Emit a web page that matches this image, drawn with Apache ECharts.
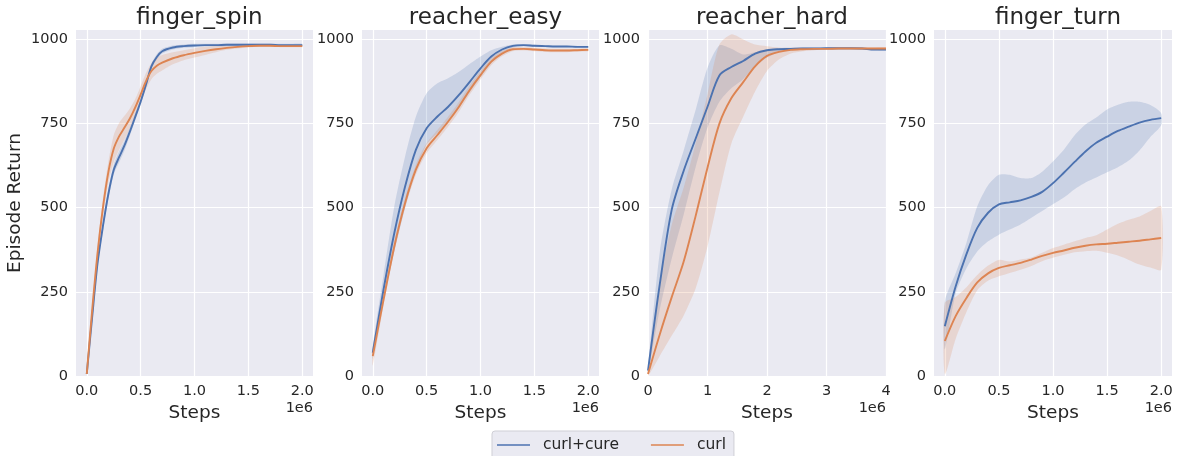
<!DOCTYPE html>
<html>
<head>
<meta charset="utf-8">
<script src="https://cdn.jsdelivr.net/npm/echarts@6/dist/echarts.min.js"></script>
<style>html,body{margin:0;padding:0;background:#fff}#c{width:1178px;height:456px}</style>
</head>
<body>
<div id="c"></div>
<script>
// ---- data (x in units of 1e6 steps) ----
const titles = ['finger_spin', 'reacher_easy', 'reacher_hard', 'finger_turn'];
const seriesNames = ['curl+cure', 'curl'];
const yTicks = [0, 250, 500, 750, 1000];
const xTicksA = [0, 0.5, 1.0, 1.5, 2.0];
const xTicksB = [0, 1, 2, 3, 4];

// finger_spin
const x1 = [0,0.05,0.1,0.15,0.2,0.25,0.3,0.35,0.4,0.45,0.5,0.55,0.6,0.65,0.7,0.8,0.9,1.0,1.1,1.2,1.3,1.4,1.5,1.6,1.7,1.8,1.9,2.0];
const cure1 = [6,175,335,445,540,612,650,685,726,770,815,866,920,948,965,976,980,982,983,983,984,984,984,984,984,983,983,983];
const cure1Hi = [8,188,350,460,555,628,668,700,738,780,824,874,928,956,972,982,985,987,987,987,988,988,988,988,988,987,987,987];
const cure1Lo = [4,162,320,430,525,598,634,670,714,760,806,858,912,940,958,970,975,977,979,979,980,980,980,980,980,979,979,979];
const curl1 = [6,195,365,500,605,675,712,738,765,798,836,876,906,922,931,944,953,960,966,971,975,978,980,981,981,980,980,980];
const curl1Hi = [8,210,385,525,635,715,752,773,795,823,861,900,930,946,954,962,968,974,978,980,981,983,984,984,984,983,983,983];
const curl1Lo = [4,180,345,475,575,635,672,703,735,773,811,852,882,898,908,926,938,946,954,962,969,973,976,978,978,977,977,977];

// reacher_easy
const x2 = [0,0.1,0.2,0.3,0.4,0.5,0.6,0.7,0.8,0.9,1.0,1.1,1.2,1.3,1.4,1.5,1.6,1.7,1.8,1.9,2.0];
const cure2 = [69,257,425,563,672,736,771,800,835,874,914,949,970,981,983,981,980,979,979,978,978];
const cure2Hi = [88,300,504,652,770,840,870,885,904,927,949,968,978,985,986,984,982,981,981,980,980];
const cure2Lo = [52,225,370,500,610,688,722,758,798,843,888,930,960,976,980,978,977,977,977,976,976];
const curl2 = [59,227,385,514,613,677,716,756,800,850,894,934,958,971,972,970,968,967,967,968,969];
const curl2Hi = [85,245,400,529,628,692,731,771,815,864,907,945,966,977,977,975,973,972,972,972,973];
const curl2Lo = [32,210,370,499,598,662,701,741,785,836,881,923,950,965,967,965,963,962,962,964,965];

// reacher_hard
const x3 = [0,0.2,0.4,0.6,0.8,1.0,1.2,1.4,1.6,1.8,2.0,2.2,2.4,2.6,2.8,3.0,3.2,3.4,3.6,3.8,4.0];
const cure3 = [16,275,495,610,705,800,893,918,936,958,968,971,972,973,973,974,974,974,973,970,970];
const cure3Hi = [25,370,555,670,790,916,982,972,955,962,970,974,975,976,976,977,977,977,977,973,972];
const cure3Lo = [8,200,350,480,620,738,815,855,882,920,946,963,968,970,970,971,971,971,969,967,967];
const curl3 = [6,125,235,340,475,619,750,825,873,920,951,963,969,971,972,972,973,973,973,973,973];
const curl3Hi = [20,280,450,560,690,837,985,1015,1000,985,980,976,975,975,975,975,976,976,976,976,976];
const curl3Lo = [0,60,120,180,260,385,545,690,770,845,906,940,958,965,968,969,970,970,970,970,970];

// finger_turn
const x4 = [0,0.1,0.2,0.3,0.4,0.5,0.6,0.7,0.8,0.9,1.0,1.1,1.2,1.3,1.4,1.5,1.6,1.7,1.8,1.9,2.0];
const cure4 = [148,266,362,440,485,510,516,522,532,547,573,604,636,667,693,711,728,741,753,761,766];
const cure4Hi = [222,305,396,504,567,598,598,588,588,607,637,672,715,747,768,792,806,815,815,805,781];
const cure4Lo = [79,245,320,370,400,420,435,450,470,490,510,530,555,575,590,605,620,640,670,710,745];
const curl4 = [104,178,232,278,305,321,329,336,346,357,366,373,381,387,391,393,396,399,402,406,410];
const curl4Hi = [217,235,264,300,328,345,340,346,352,366,380,390,400,410,418,435,452,464,474,490,504];
const curl4Lo = [5,110,190,255,283,296,306,316,327,341,351,360,368,371,372,366,358,345,331,322,316];

const panels = [
  {x: x1, cure: cure1, cureHi: cure1Hi, cureLo: cure1Lo, curl: curl1, curlHi: curl1Hi, curlLo: curl1Lo},
  {x: x2, cure: cure2, cureHi: cure2Hi, cureLo: cure2Lo, curl: curl2, curlHi: curl2Hi, curlLo: curl2Lo},
  {x: x3, cure: cure3, cureHi: cure3Hi, cureLo: cure3Lo, curl: curl3, curlHi: curl3Hi, curlLo: curl3Lo},
  {x: x4, cure: cure4, cureHi: cure4Hi, cureLo: cure4Lo, curl: curl4, curlHi: curl4Hi, curlLo: curl4Lo}
];

// ---- layout / style ----
const FONT = 'DejaVu Sans';
const TXT = '#262626';
const BLUE = '#4c72b0', ORANGE = '#dd8452';
const BLUE_A = 'rgba(76,114,176,0.2)', ORANGE_A = 'rgba(221,132,82,0.2)';
const gridBoxes = [[76, 237], [362, 237], [648, 238], [934, 238]];
const TOP = 30, H = 346;

const pair = (xs, ys) => xs.map((v, i) => [v, ys[i]]);

const grids = [], xAxes = [], yAxes = [], series = [], titleArr = [], graphics = [];
panels.forEach((p, i) => {
  const [left, width] = gridBoxes[i];
  grids.push({left: left, top: TOP, width: width, height: H, show: true, backgroundColor: '#eaeaf2', borderWidth: 0, containLabel: false});
  const isB = i === 2;
  const ticks = isB ? xTicksB : xTicksA;
  xAxes.push({
    type: 'value', gridIndex: i,
    min: isB ? 0 : -0.1, max: isB ? 4 : 2.1,
    name: 'Steps', nameLocation: 'middle', nameGap: 28,
    nameTextStyle: {fontFamily: FONT, fontSize: 18.5, color: TXT},
    axisLine: {show: false}, axisTick: {show: false, customValues: ticks},
    axisLabel: {customValues: ticks, fontFamily: FONT, fontSize: 14.5, color: TXT, margin: 8,
      formatter: v => isB ? String(Math.round(v)) : v.toFixed(1)},
    splitLine: {show: true, lineStyle: {color: '#ffffff', width: 1.2}}
  });
  yAxes.push({
    type: 'value', gridIndex: i, min: 0, max: 1028,
    name: i === 0 ? 'Episode Return' : '', nameLocation: 'middle', nameGap: 51, nameRotate: 90,
    nameTextStyle: {fontFamily: FONT, fontSize: 18.5, color: TXT},
    axisLine: {show: false}, axisTick: {show: false, customValues: yTicks},
    axisLabel: {customValues: yTicks, fontFamily: FONT, fontSize: 14.5, color: TXT, margin: 8,
      formatter: v => String(Math.round(v))},
    splitLine: {show: true, lineStyle: {color: '#ffffff', width: 1.2}}
  });
  titleArr.push({text: titles[i], left: left + width / 2, top: 2, textAlign: 'center',
    textStyle: {fontFamily: FONT, fontSize: 23, fontWeight: 'normal', color: TXT}});
  graphics.push({type: 'text', right: 1178 - (left + width), top: 401,
    style: {text: '1e6', fontFamily: FONT, fontSize: 14.5, fill: TXT}});

  const band = (hi, lo, color, z) => {
    series.push({
      type: 'custom', xAxisIndex: i, yAxisIndex: i, silent: true, clip: true, z: z,
      data: p.x.map((v, k) => [v, lo[k], hi[k]]),
      encode: {x: 0, y: [1, 2]},
      renderItem: (params, api) => {
        if (params.dataIndex !== 0) return null;
        const pts = [];
        for (let k = 0; k < p.x.length; k++) pts.push(api.coord([p.x[k], hi[k]]));
        for (let k = p.x.length - 1; k >= 0; k--) pts.push(api.coord([p.x[k], lo[k]]));
        return {type: 'polygon', shape: {points: pts, smooth: 0.25}, style: {fill: color, stroke: null}};
      }
    });
  };
  band(p.cureHi, p.cureLo, BLUE_A, 1);
  band(p.curlHi, p.curlLo, ORANGE_A, 2);
  series.push({type: 'line', name: seriesNames[0], xAxisIndex: i, yAxisIndex: i, data: pair(p.x, p.cure),
    symbol: 'none', smooth: 0.3, lineStyle: {color: BLUE, width: 1.9}, itemStyle: {color: BLUE}, z: 3});
  series.push({type: 'line', name: seriesNames[1], xAxisIndex: i, yAxisIndex: i, data: pair(p.x, p.curl),
    symbol: 'none', smooth: 0.3, lineStyle: {color: ORANGE, width: 1.9}, itemStyle: {color: ORANGE}, z: 4});
});

const chart = echarts.init(document.getElementById('c'), null, {renderer: 'canvas'});
chart.setOption({
  animation: false,
  backgroundColor: '#ffffff',
  title: titleArr,
  grid: grids,
  xAxis: xAxes,
  yAxis: yAxes,
  graphic: graphics,
  legend: {
    data: seriesNames.map(n => ({name: n, icon: 'rect'})),
    left: 492, top: 431,
    itemWidth: 33, itemHeight: 1.6, itemGap: 32,
    padding: [6, 8, 14, 5],
    backgroundColor: '#eaeaf2', borderColor: '#cfcfd6', borderWidth: 1, borderRadius: 3,
    textStyle: {fontFamily: FONT, fontSize: 15.5, color: TXT, padding: [0, 0, 0, 8]}
  },
  series: series
});
</script>
</body>
</html>
